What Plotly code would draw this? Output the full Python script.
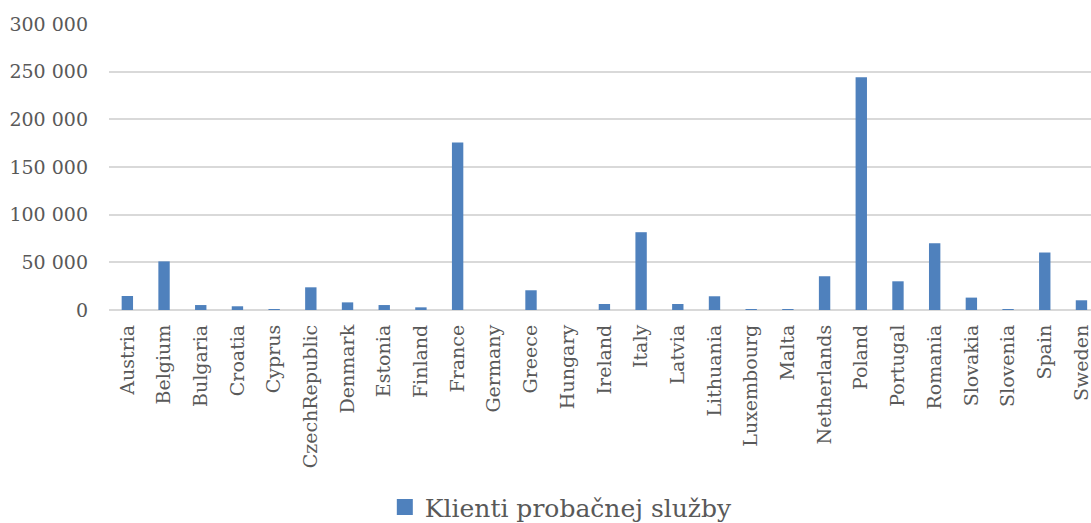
import plotly.graph_objects as go

countries = ["Austria", "Belgium", "Bulgaria", "Croatia", "Cyprus", "CzechRepublic",
             "Denmark", "Estonia", "Finland", "France", "Germany", "Greece", "Hungary",
             "Ireland", "Italy", "Latvia", "Lithuania", "Luxembourg", "Malta",
             "Netherlands", "Poland", "Portugal", "Romania", "Slovakia", "Slovenia",
             "Spain", "Sweden"]
clients = [14700, 51000, 5200, 3900, 900, 23800,
           8000, 5200, 2800, 175800, 0, 20700, 0,
           6300, 81600, 6300, 14400, 900, 800,
           35400, 244100, 30100, 70000, 13000, 900,
           60300, 10200]
series_name = "Klienti probačnej služby"
y_ticks = [0, 50000, 100000, 150000, 200000, 250000, 300000]

BLUE = "#4F81BD"
GRAY_TXT = "#595959"
GRID = "#D9D9D9"
FONT = "DejaVu Serif"

fig = go.Figure()
fig.add_trace(go.Bar(x=countries, y=clients, marker_color=BLUE,
                     marker_line_width=0, showlegend=False, name=series_name))
# legend entry with a larger square symbol
fig.add_trace(go.Scatter(x=[None], y=[None], mode="markers", name=series_name,
                         marker=dict(symbol="square", size=16, color=BLUE)))

fig.update_layout(
    width=1091, height=523,
    margin=dict(l=109, r=0, t=24, b=213, autoexpand=False),
    plot_bgcolor="white", paper_bgcolor="white",
    separators=", ",
    bargap=0.69,
    font=dict(family=FONT, color=GRAY_TXT, size=19),
    legend=dict(orientation="h", xref="container", yref="container",
                x=0.5145, xanchor="center", y=0.03, yanchor="middle",
                font=dict(size=25, color=GRAY_TXT), itemsizing="trace",
                bgcolor="rgba(0,0,0,0)"),
)
fig.update_xaxes(type="category", range=[-0.5, 26.26], tickangle=-90,
                 showgrid=False, showline=False, ticks="", automargin=False,
                 ticklabeloverflow="allow",
                 ticklabelstandoff=10, tickfont=dict(size=19, color=GRAY_TXT))
fig.update_yaxes(range=[0, 300000], tickvals=y_ticks, tickformat=",d",
                 showgrid=True, gridcolor=GRID, gridwidth=2, automargin=False,
                 zeroline=True, zerolinecolor=GRID, zerolinewidth=2,
                 showline=False, ticks="", ticklabelstandoff=20,
                 tickfont=dict(size=19, color=GRAY_TXT))

fig.write_html("out.html", config={"displayModeBar": False},
               post_script="document.body.style.margin='0';document.body.style.overflow='hidden';")
